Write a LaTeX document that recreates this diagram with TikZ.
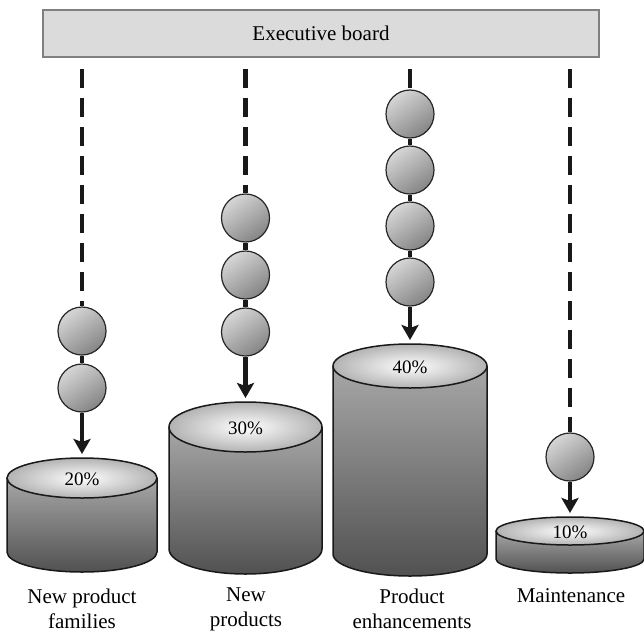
\documentclass[tikz,border=0pt]{standalone}
\usepackage{fontspec}
\setmainfont{Liberation Serif}
\usetikzlibrary{arrows.meta}

% one drum: centre x, top-face y, bottom-face y, x radius, y radius, text, name
\newcommand\drum[7]{%
  \shade[top color=black!18, bottom color=black!60]
    ({#1-#4},#2) -- ({#1-#4},#3) arc[start angle=180, end angle=0, x radius=#4, y radius=#5]
    -- ({#1+#4},#2) -- cycle;
  \shade[left color=black, middle color=white, right color=black, opacity=0.2]
    ({#1-#4},#2) -- ({#1-#4},#3) arc[start angle=180, end angle=0, x radius=#4, y radius=#5]
    -- ({#1+#4},#2) -- cycle;
  \draw[outline]
    ({#1-#4},#2) -- ({#1-#4},#3) arc[start angle=180, end angle=0, x radius=#4, y radius=#5]
    -- ({#1+#4},#2);
  \shade[inner color=white, outer color=black!30] (#1,#2) ellipse[x radius=#4, y radius=#5];
  \draw[outline] (#1,#2) ellipse[x radius=#4, y radius=#5];
  \node[pct] (#7) at (#1,{#2+1}) {#6};
  \coordinate (#7-top) at (#1,{#2-#5-4});
}

\begin{document}
\begin{tikzpicture}[x=1pt, y=-1pt,
  board/.style={draw=black!50, line width=2pt, fill=black!14,
    minimum width=556pt, minimum height=46pt, inner sep=0pt,
    font=\fontsize{21}{23}\selectfont},
  ball/.style={circle, draw=black!85, line width=1.2pt, minimum size=48pt,
    inner sep=0pt, top color=black!16, bottom color=black!48, shading angle=35},
  dashline/.style={line width=4.5pt, black!90, dash pattern=on 19pt off 10pt,
    shorten <=11pt},
  link/.style={line width=4.5pt, black!90},
  arr/.style={line width=4.5pt, black!90,
    -{Stealth[length=15pt, width=17pt, inset=3pt]}},
  outline/.style={line width=1.5pt, black!90},
  pct/.style={font=\fontsize{19}{21}\selectfont, inner sep=0pt},
  caption/.style={align=center, font=\fontsize{21}{25}\selectfont, inner sep=0pt}
]
\useasboundingbox (0,0) rectangle (644,634);

% the board
\node[board] (board) at (321,33.5) {Executive board};

% drums
\drum{82}{478}{552}{75}{20}{20\%}{d1}
\drum{245.5}{427}{549}{76.5}{25}{30\%}{d2}
\drum{410}{366}{554}{77}{22}{40\%}{d3}
\drum{570}{531}{559}{74}{14}{10\%}{d4}

% balls
\node[ball] (a1) at (82,331) {};
\node[ball] (a2) at (82,388) {};

\node[ball] (b1) at (245.5,218) {};
\node[ball] (b2) at (245.5,275) {};
\node[ball] (b3) at (245.5,332) {};

\node[ball] (c1) at (410,114) {};
\node[ball] (c2) at (410,170) {};
\node[ball] (c3) at (410,226) {};
\node[ball] (c4) at (410,282) {};

\node[ball] (e1) at (570,457) {};

% dashed lines from the board
\draw[dashline] (board.south -| a1) -- (a1.north);
\draw[dashline] (board.south -| b1) -- (b1.north);
\draw[dashline] (board.south -| c1) -- (c1.north);
\draw[dashline] (board.south -| e1) -- (e1.north);

% links between balls
\draw[link] (a1.south) -- (a2.north);
\draw[link] (b1.south) -- (b2.north);
\draw[link] (b2.south) -- (b3.north);
\draw[link] (c1.south) -- (c2.north);
\draw[link] (c2.south) -- (c3.north);
\draw[link] (c3.south) -- (c4.north);

% arrows into the drums
\draw[arr] (a2.south) -- (d1-top);
\draw[arr] (b3.south) -- (d2-top);
\draw[arr] (c4.south) -- (d3-top);
\draw[arr] (e1.south) -- (d4-top);

% captions
\node[caption] (l1) at (82,609) {New product\\families};
\node[caption] (l2) at (246,609) {New\\products};
\node[caption] (l3) at (412,609) {Product\\enhancements};
\node[caption, anchor=base] (l4) at (571,602) {Maintenance};
\end{tikzpicture}
\end{document}
